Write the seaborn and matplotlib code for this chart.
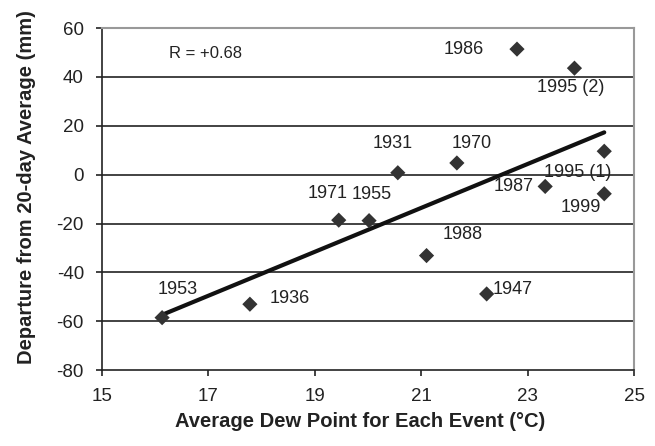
import numpy as np
import pandas as pd
import matplotlib
matplotlib.use("Agg")
import matplotlib.pyplot as plt
import seaborn as sns

# values
years = ["1953", "1936", "1971", "1955", "1931", "1970", "1986", "1995 (2)",
         "1995 (1)", "1987", "1999", "1988", "1947"]
dew_point = [16.13, 17.78, 19.45, 20.02, 20.56, 21.67, 22.80, 23.88,
             24.44, 23.33, 24.44, 21.10, 22.23]
departure = [-58.5, -53.0, -18.6, -18.8, 0.8, 4.8, 51.4, 43.6,
             9.6, -4.8, -7.8, -33.1, -48.8]
x_ticks = [15, 17, 19, 21, 23, 25]
y_ticks = [-80, -60, -40, -20, 0, 20, 40, 60]

# label offsets (points) and alignment for each year label
label_pos = {
    "1953": (-3.5, 20, "left"), "1936": (14, 4, "left"),
    "1971": (-8, 19, "center"), "1955": (2, 19, "center"),
    "1931": (-4, 21, "center"), "1970": (11, 14, "center"),
    "1986": (-38, 0, "center"), "1995 (2)": (-3, -14, "center"),
    "1995 (1)": (-19, -15, "center"), "1987": (-8, 0, "right"),
    "1999": (-17, -10, "center"), "1988": (26, 15, "center"),
    "1947": (4, 3, "left"),
}

df = pd.DataFrame({"x": dew_point, "y": departure, "year": years})

sns.set_style("white")
plt.rcParams["font.family"] = ["Liberation Sans", "DejaVu Sans"]
plt.rcParams["axes.unicode_minus"] = False

fig = plt.figure(figsize=(6.55, 4.46), dpi=100)
ax = fig.add_axes([0.1557, 0.170, 0.8123, 0.767])

for yv in y_ticks[1:-1]:
    ax.axhline(yv, color="#222222", lw=1.2, zorder=1)

# least-squares trend line, then the events
sns.regplot(data=df, x="x", y="y", scatter=False, ci=None, ax=ax,
            line_kws={"color": "#111111", "lw": 3, "zorder": 2})
sns.scatterplot(data=df, x="x", y="y", marker="D", s=60, color="#333333",
                edgecolor="none", ax=ax, zorder=3)

for yr, xv, yv in zip(years, dew_point, departure):
    dx, dy, ha = label_pos[yr]
    ax.annotate(yr, (xv, yv), xytext=(dx, dy), textcoords="offset points",
                ha=ha, va="center", fontsize=13, color="#222222")

ax.text(0.126, 0.927, "R = +0.68", transform=ax.transAxes, fontsize=12,
        va="center", ha="left", color="#222222")

ax.set_xlim(15, 25)
ax.set_ylim(-80, 60)
ax.set_xticks(x_ticks)
ax.set_yticks(y_ticks)
ax.tick_params(axis="both", direction="out", length=4.5, width=1.2,
               color="#222222", labelsize=13.5, labelcolor="#222222")
ax.tick_params(axis="x", bottom=True, pad=8)
ax.tick_params(axis="y", left=True, pad=8.5)

for side in ["left", "bottom"]:
    ax.spines[side].set_color("#222222")
    ax.spines[side].set_linewidth(1.2)
for side in ["top", "right"]:
    ax.spines[side].set_color("#999999")
    ax.spines[side].set_linewidth(1.5)

ax.set_xlabel("Average Dew Point for Each Event (\u00b0C)", fontsize=14.5,
              fontweight="bold", color="#222222")
ax.set_ylabel("Departure from 20-day Average (mm)", fontsize=14.5,
              fontweight="bold", color="#222222")
ax.xaxis.set_label_coords(0.485, -0.122)
ax.yaxis.set_label_coords(-0.124, 0.535)

fig.savefig("out.png", dpi=100)
